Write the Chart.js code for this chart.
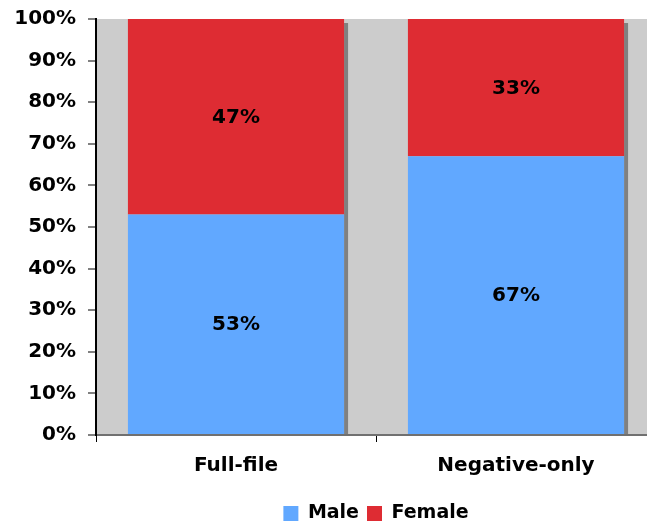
<!DOCTYPE html>
<html>
<head>
<meta charset="utf-8">
<script src="https://cdn.jsdelivr.net/npm/chart.js@4/dist/chart.umd.min.js"></script>
<style>
  html, body { margin: 0; padding: 0; background: #ffffff; overflow: hidden; }
  #wrap { width: 660px; height: 533px; }
</style>
</head>
<body>
<div id="wrap"><canvas id="c" width="660" height="533"></canvas></div>
<script>
const categories = ["Full-file", "Negative-only"];
const maleValues = [53, 67];
const femaleValues = [47, 33];
const seriesNames = ["Male", "Female"];
const yTickValues = [0, 10, 20, 30, 40, 50, 60, 70, 80, 90, 100];

const FONT = "'DejaVu Sans', Verdana, sans-serif";

const decorPlugin = {
  id: 'decor',
  beforeDraw(chart) {
    const { ctx, chartArea: a } = chart;
    ctx.save();
    ctx.fillStyle = '#cccccc';
    ctx.fillRect(a.left, a.top, a.right - a.left, a.bottom - a.top);
    ctx.restore();
  },
  beforeDatasetsDraw(chart) {
    const ctx = chart.ctx;
    const metas = chart.getSortedVisibleDatasetMetas();
    const n = chart.data.labels.length;
    ctx.save();
    ctx.fillStyle = '#808080';
    for (let i = 0; i < n; i++) {
      let top = Infinity, bottom = -Infinity, right = 0;
      metas.forEach(m => {
        const el = m.data[i];
        top = Math.min(top, el.y, el.base);
        bottom = Math.max(bottom, el.y, el.base);
        right = el.x + el.width / 2;
      });
      ctx.fillRect(right, top + 4, 4, bottom - top - 4);
    }
    ctx.restore();
  },
  afterDatasetsDraw(chart) {
    const ctx = chart.ctx;
    ctx.save();
    ctx.font = "bold 20px " + FONT;
    ctx.fillStyle = '#000000';
    ctx.textAlign = 'center';
    ctx.textBaseline = 'middle';
    chart.getSortedVisibleDatasetMetas().forEach(m => {
      const ds = chart.data.datasets[m.index];
      m.data.forEach((el, i) => {
        const y = (el.y + el.base) / 2;
        ctx.fillText(ds.data[i] + '%', el.x, y + 1);
      });
    });
    ctx.restore();
  }
};

new Chart(document.getElementById('c'), {
  type: 'bar',
  data: {
    labels: categories,
    datasets: [
      { label: seriesNames[0], data: maleValues, backgroundColor: '#61a8ff', borderWidth: 0 },
      { label: seriesNames[1], data: femaleValues, backgroundColor: '#de2c33', borderWidth: 0 }
    ]
  },
  options: {
    responsive: false,
    animation: false,
    devicePixelRatio: 1,
    layout: { padding: { top: 19, right: 4, left: 0, bottom: 0 } },
    datasets: { bar: { barPercentage: 0.772, categoryPercentage: 1.0 } },
    scales: {
      x: {
        stacked: true,
        grid: { display: true, drawOnChartArea: false, drawTicks: true, tickLength: 7, color: '#000000', offset: true },
        border: { display: true, color: '#707070', width: 2 },
        ticks: { color: '#000000', font: { family: FONT, size: 20, weight: 'bold' }, padding: 12, maxRotation: 0 },
        afterFit(scale) { scale.height = 61; scale.paddingLeft = 0; scale.paddingRight = 0; }
      },
      y: {
        stacked: true,
        min: 0, max: 100,
        afterBuildTicks(scale) { scale.ticks = yTickValues.map(v => ({ value: v })); },
        grid: { display: true, drawOnChartArea: false, drawTicks: true, tickLength: 8, color: '#808080', lineWidth: 2 },
        border: { display: true, color: '#000000', width: 2 },
        ticks: { color: '#000000', font: { family: FONT, size: 20, weight: 'bold' }, padding: 12, callback: v => v + '%' },
        afterFit(scale) { scale.width = 96; scale.paddingTop = 0; scale.paddingBottom = 0; }
      }
    },
    plugins: {
      legend: {
        display: true,
        position: 'bottom',
        fullSize: false,
        labels: { boxWidth: 15, boxHeight: 15, padding: 8, color: '#000000', font: { family: FONT, size: 19, weight: 'bold' } }
      },
      tooltip: { enabled: false }
    }
  },
  plugins: [decorPlugin]
});
</script>
</body>
</html>
